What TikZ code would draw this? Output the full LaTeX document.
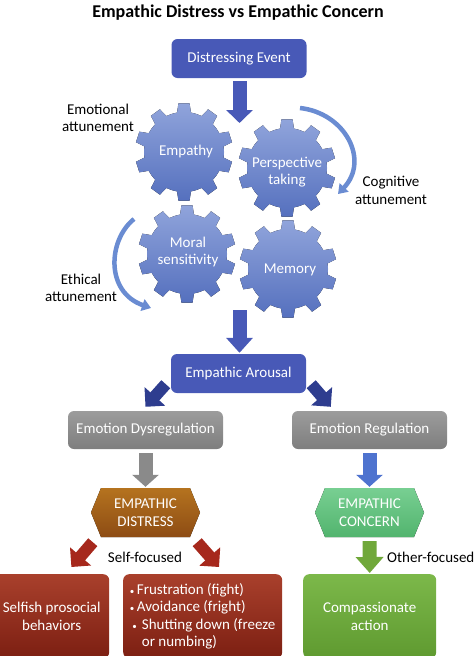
\documentclass[tikz,border=0pt]{standalone}
\usepackage{fontspec}
\setmainfont{Carlito}
\usetikzlibrary{arrows.meta,calc}
\definecolor{cBlue}{HTML}{4859B7}
\definecolor{cNavy}{HTML}{2E3D8F}
\definecolor{cGrayT}{HTML}{9C9C9C}
\definecolor{cGrayB}{HTML}{7E7E7E}
\definecolor{cGrayA}{HTML}{8A8A8A}
\definecolor{cBlue2}{HTML}{4E73CF}
\definecolor{cBrownT}{HTML}{B5731F}
\definecolor{cBrownB}{HTML}{8D4C14}
\definecolor{cGHexT}{HTML}{78CF92}
\definecolor{cGHexB}{HTML}{52B46E}
\definecolor{cRedA}{HTML}{A6281C}
\definecolor{cRedT}{HTML}{A9402C}
\definecolor{cRedB}{HTML}{7C1F12}
\definecolor{cGreenA}{HTML}{70A83A}
\definecolor{cGreenT}{HTML}{7CB84A}
\definecolor{cGreenB}{HTML}{5F9A30}
\definecolor{cCurve}{HTML}{6A8CD2}
\definecolor{cGearT}{HTML}{90A4DB}
\definecolor{cGearB}{HTML}{5570BE}
\newcommand{\lblfont}{\fontsize{15}{17.5}\selectfont}
\begin{document}
\begin{tikzpicture}[x=1pt,y=-1pt,
  box/.style={rounded corners=6pt, text=white, align=center, font=\lblfont, inner sep=0pt},
  bluebox/.style={box, fill=cBlue, minimum width=135pt, minimum height=39pt},
  graybox/.style={box, top color=cGrayT, bottom color=cGrayB, minimum width=155pt, minimum height=38pt},
  redbox/.style={box, top color=cRedT, bottom color=cRedB, minimum height=84pt, anchor=north west},
  greenbox/.style={box, top color=cGreenT, bottom color=cGreenB, minimum height=84pt, anchor=north west},
  hexnode/.style={text=white, align=center, font=\lblfont, inner sep=0pt, minimum width=109pt, minimum height=49pt},
  gearlbl/.style={text=white, align=center, font=\lblfont},
  sidelbl/.style={text=black, align=center, font=\lblfont},
  barrow/.style={line width=14pt, -{Triangle[length=13pt,width=26pt]}},
  darrow/.style={line width=12pt, -{Triangle[length=14pt,width=27pt]}},
  carrow/.style={line width=4.5pt, color=cCurve, -{Triangle[length=9pt,width=12pt]}},
  pics/gear/.style={code={
    \fill[top color=cGearT, bottom color=cGearB]
      (80:40) \foreach \a in {90,126,...,414}{
        -- ({\a-10}:40) -- ({\a-6.5}:49) -- ({\a+6.5}:49) -- ({\a+10}:40)
        arc[start angle={\a+10}, end angle={\a+26}, radius=40]} -- cycle;
  }}]
\useasboundingbox (0,0) rectangle (474,656);

% title
\node[font=\fontsize{18}{21}\selectfont\bfseries] (title) at (238,13) {Empathic Distress vs Empathic Concern};

% top box
\node[bluebox] (ev) at (239,58.5) {Distressing Event};

% gears
\pic at (184,152) {gear};
\pic at (287,168) {gear};
\pic at (187,254) {gear};
\pic at (288,269) {gear};
\node[gearlbl] (emp) at (186,151) {Empathy};
\node[gearlbl] (per) at (287,172) {Perspective\\taking};
\node[gearlbl] (mor) at (188,252) {Moral\\sensitivity};
\node[gearlbl] (mem) at (290,270) {Memory};

% side labels
\node[sidelbl] (emo) at (98,118) {Emotional\\attunement};
\node[sidelbl] (cog) at (391,190.5) {Cognitive\\attunement};
\node[sidelbl] (eth) at (81,288) {Ethical\\attunement};

% curved arrows
\coordinate (c1s) at (300,108);
\coordinate (c1e) at (338,194);
\draw[carrow] (c1s) .. controls (345,113) and (370,160) .. (c1e);
\coordinate (c2s) at (134,219);
\coordinate (c2e) at (151,308);
\draw[carrow] (c2s) .. controls (108,240) and (105,292) .. (c2e);

% arousal
\node[bluebox] (ar) at (238.5,373.5) {Empathic Arousal};

% regulation boxes
\node[graybox] (dys) at (145.5,430) {Emotion Dysregulation};
\node[graybox] (reg) at (369.5,430) {Emotion Regulation};

% hexagons
\fill[top color=cBrownT, bottom color=cBrownB]
  (91,512.5) -- (101,488) -- (190,488) -- (200,512.5) -- (190,537) -- (101,537) -- cycle;
\node[hexnode] (dis) at (145.5,512.5) {EMPATHIC\\DISTRESS};
\fill[top color=cGHexT, bottom color=cGHexB]
  (315,512.5) -- (325,488) -- (414,488) -- (424,512.5) -- (414,537) -- (325,537) -- cycle;
\node[hexnode] (con) at (369.5,512.5) {EMPATHIC\\CONCERN};

% bottom boxes
\node[redbox, minimum width=115pt] (sel) at (-6,574) {Selfish prosocial\\behaviors};
\node[redbox, minimum width=159pt, align=left] (bul) at (123,574)
  {{\small•}\,Frustration (fight)\\{\small•}\,Avoidance (fright)\\\,{\small•}\,\,Shutting down (freeze\\\hphantom{\,{\small•}\,\,}or numbing)};
\node[greenbox, minimum width=133pt] (com) at (303,574) {Compassionate\\action};

% focus labels
\node[sidelbl] (self) at (145,557) {Self-focused};
\node[sidelbl, anchor=west, inner sep=0pt] (other) at (387,557) {Other-focused};

% block arrows
\coordinate (a1) at (239.5,123);
\draw[barrow, cBlue] ($(ev.south)+(0.5,3)$) -- (a1);
\coordinate (g2) at (239.5,310);
\draw[barrow, cBlue, -{Triangle[length=15pt,width=26pt]}] (g2) -- ($(ar.north)+(1,-1)$);
\draw[darrow, cNavy] ($(ar.south west)+(-5,-9)$) -- ($(dys.north)+(0,-4)$);
\draw[darrow, cNavy] ($(ar.south east)+(5,-9)$) -- ($(reg.north west)+(39,-4)$);
\draw[barrow, cGrayA, -{Triangle[length=12pt,width=26pt]}] ($(dys.south)+(0,4)$) -- ($(dis.north)+(0,-1)$);
\draw[barrow, cBlue2, -{Triangle[length=12pt,width=26pt]}] ($(reg.south)+(0,4)$) -- ($(con.north)+(0,-1)$);
\draw[darrow, cRedA] ($(dis.south west)+(2,5)$) -- ($(sel.north east)+(-38,-7)$);
\draw[darrow, cRedA] ($(dis.south east)+(-3,5)$) -- ($(bul.north west)+(96,-7)$);
\draw[barrow, cGreenA, -{Triangle[length=16pt,width=27pt]}] ($(con.south)+(0,4)$) -- ($(com.north)+(0,-1)$);
\end{tikzpicture}
\end{document}
